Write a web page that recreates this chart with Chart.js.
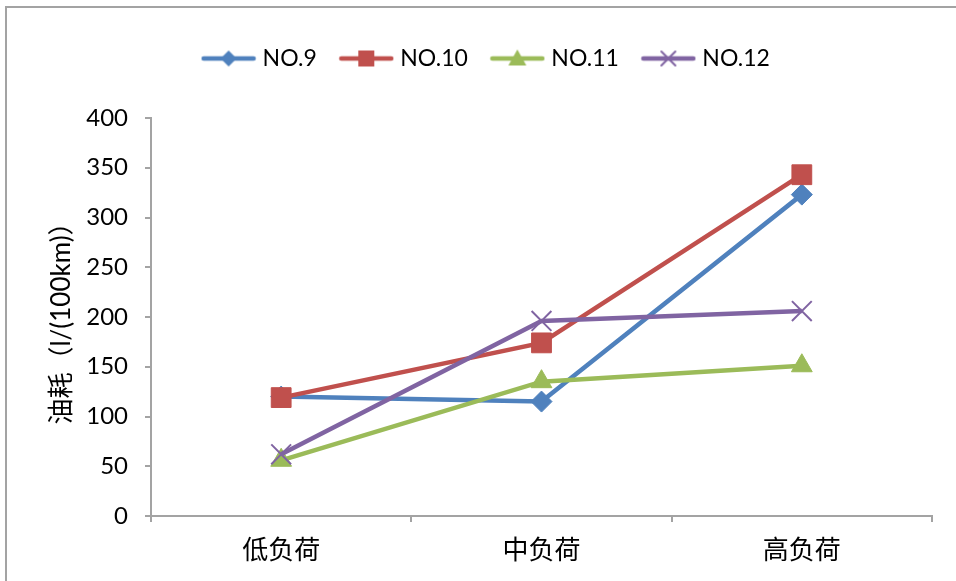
<!DOCTYPE html>
<html>
<head>
<meta charset="utf-8">
<script src="https://cdn.jsdelivr.net/npm/chart.js@4/dist/chart.umd.min.js"></script>
<style>
  html, body { margin: 0; padding: 0; background: #fff; overflow: hidden; width: 956px; height: 581px; }
  #frame { position: absolute; left: 5px; top: 6px; width: 1200px; height: 1200px; border-left: 2px solid #a3a3a3; border-top: 2px solid #a3a3a3; }
  #wrap { position: absolute; left: 0; top: 0; width: 956px; height: 581px; }
</style>
</head>
<body>
<div id="frame"></div>
<div id="wrap"><canvas id="c" width="956" height="581"></canvas></div>
<script>
const categories = ['低负荷', '中负荷', '高负荷'];
const seriesNames = ['NO.9', 'NO.10', 'NO.11', 'NO.12'];
const no9 = [120, 115, 323];
const no10 = [119, 174, 343];
const no11 = [56, 135, 151];
const no12 = [62, 196, 206];
const yTicks = [0, 50, 100, 150, 200, 250, 300, 350, 400];
const yTitle = '油耗（l/(100km)）';

const colors = ['#4F81BD', '#C0504D', '#9BBB59', '#8064A2'];
const styles = ['rectRot', 'rect', 'triangle', 'crossRot'];
const radii = [10.5, 14, 12, 14];
const FONT = "Lato, 'Noto Sans CJK SC', sans-serif";

function legendIcon(i) {
  const cv = document.createElement('canvas');
  cv.width = 56; cv.height = 24;
  const ctx = cv.getContext('2d');
  ctx.strokeStyle = colors[i];
  ctx.lineWidth = 4.5;
  ctx.lineCap = 'round';
  ctx.beginPath(); ctx.moveTo(3, 12); ctx.lineTo(53, 12); ctx.stroke();
  ctx.fillStyle = colors[i];
  const x = 28, y = 12;
  ctx.beginPath();
  if (styles[i] === 'rectRot') {
    ctx.moveTo(x, y - 8); ctx.lineTo(x + 8, y); ctx.lineTo(x, y + 8); ctx.lineTo(x - 8, y); ctx.closePath(); ctx.fill();
  } else if (styles[i] === 'rect') {
    ctx.rect(x - 8, y - 8, 16, 16); ctx.fill();
  } else if (styles[i] === 'triangle') {
    ctx.moveTo(x, y - 9); ctx.lineTo(x + 9, y + 7); ctx.lineTo(x - 9, y + 7); ctx.closePath(); ctx.fill();
  } else {
    ctx.lineWidth = 2;
    ctx.moveTo(x - 7, y - 7); ctx.lineTo(x + 7, y + 7);
    ctx.moveTo(x + 7, y - 7); ctx.lineTo(x - 7, y + 7); ctx.stroke();
  }
  return cv;
}
const icons = [0, 1, 2, 3].map(legendIcon);

const dataArrays = [no9, no10, no11, no12];
const datasets = seriesNames.map((name, i) => ({
  label: name,
  data: dataArrays[i],
  xAxisID: 'x',
  yAxisID: 'y',
  order: seriesNames.length - 1 - i, // later series drawn on top, like the reference
  borderColor: colors[i],
  backgroundColor: colors[i],
  borderWidth: 4.5,
  pointStyle: styles[i],
  pointRadius: radii[i],
  pointHoverRadius: radii[i],
  pointBorderWidth: styles[i] === 'crossRot' ? 2 : 1,
  pointBorderColor: colors[i],
  pointBackgroundColor: colors[i],
  tension: 0,
  fill: false
}));

new Chart(document.getElementById('c'), {
  type: 'line',
  data: { labels: categories, datasets },
  options: {
    responsive: false,
    animation: false,
    events: [],
    layout: { padding: { left: 44, right: 24, top: 20, bottom: 0 } },
    plugins: {
      tooltip: { enabled: false },
      legend: {
        display: true,
        position: 'top',
        labels: {
          usePointStyle: true,
          pointStyleWidth: 45,
          padding: 27,
          color: '#000',
          font: { family: FONT, size: 23 },
          generateLabels(chart) {
            const items = Chart.defaults.plugins.legend.labels.generateLabels(chart);
            items.sort((a, b) => a.datasetIndex - b.datasetIndex);
            items.forEach(it => { it.pointStyle = icons[it.datasetIndex]; });
            return items;
          }
        }
      }
    },
    scales: {
      x: {
        type: 'category',
        offset: true,
        grid: { display: true, drawOnChartArea: false, drawTicks: true, tickLength: 6, offset: true, color: '#a3a3a3', lineWidth: 2 },
        border: { display: true, color: '#a3a3a3', width: 2 },
        ticks: { color: '#000', font: { family: FONT, size: 26 }, padding: 13, maxRotation: 0 },
        afterFit(s) { s.height = 65; }
      },
      spacer: {
        type: 'category',
        position: 'top',
        display: true,
        grid: { display: false },
        border: { display: false },
        ticks: { display: false },
        afterFit(s) { s.height = 38; }
      },
      y: {
        min: 0,
        max: 400,
        afterBuildTicks(s) { s.ticks = yTicks.map(v => ({ value: v })); },
        grid: { display: true, drawOnChartArea: false, drawTicks: true, tickLength: 6, color: '#a3a3a3', lineWidth: 2 },
        border: { display: true, color: '#a3a3a3', width: 2 },
        ticks: { color: '#000', font: { family: FONT, size: 24 }, padding: 17 },
        title: { display: true, text: yTitle, color: '#000', font: { family: FONT, size: 26 }, padding: { top: 2, bottom: 0 } },
        afterFit(s) { s.width = 107; }
      }
    }
  }
});
</script>
</body>
</html>
